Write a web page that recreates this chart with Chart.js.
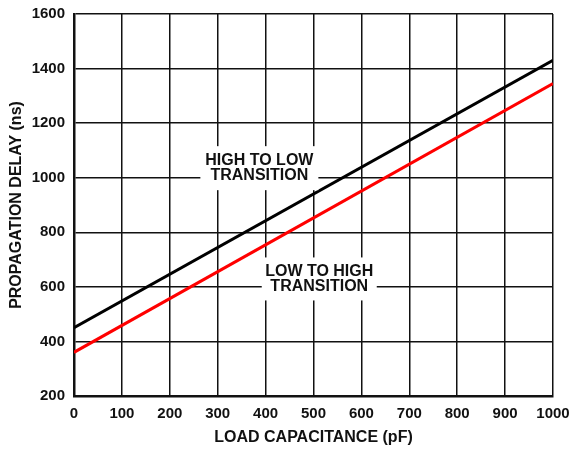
<!DOCTYPE html>
<html>
<head>
<meta charset="utf-8">
<script src="https://cdn.jsdelivr.net/npm/chart.js@4/dist/chart.umd.min.js"></script>
<style>
html, body { margin:0; padding:0; background:#fff; }
#wrap { width:571px; height:454px; }
</style>
</head>
<body>
<div id="wrap"><canvas id="delayChart" width="571" height="454"></canvas></div>
<script>

/* DATA */

const capacitance = [0, 1000];
const highToLow = [450, 1430];
const lowToHigh = [360, 1345];

const xTicks = [0, 100, 200, 300, 400, 500, 600, 700, 800, 900, 1000];
const yTicks = [200, 400, 600, 800, 1000, 1200, 1400, 1600];

/* boxed labels, in data units */
const curveLabels = [
{ lines:["HIGH TO LOW", "TRANSITION"], x:387, y:1035, w:118, h:44 },
{ lines:["LOW TO HIGH", "TRANSITION"], x:512, y:629, w:115, h:43 }
];

const FONT = "'Liberation Sans', Arial, sans-serif";


/* LABEL PLUGIN */

const labelPlugin = {
id:"curveLabels",
afterDatasetsDraw(chart){
const ctx = chart.ctx;
const xs = chart.scales.x, ys = chart.scales.y;
ctx.save();
curveLabels.forEach(l => {
const cx = xs.getPixelForValue(l.x);
const cy = ys.getPixelForValue(l.y);
ctx.fillStyle = "#fff";
ctx.fillRect(cx - l.w/2, cy - l.h/2, l.w, l.h);
ctx.fillStyle = "#111";
ctx.font = "bold 16px " + FONT;
ctx.textAlign = "center";
ctx.textBaseline = "middle";
ctx.fillText(l.lines[0], cx, cy - 7.5);
ctx.fillText(l.lines[1], cx, cy + 7.5);
});
ctx.restore();
}
};


/* CHART */

new Chart(document.getElementById("delayChart"), {

type:"line",

data:{
labels:capacitance,
datasets:[
{
label:"High to Low",
data:capacitance.map((c,i) => ({x:c, y:highToLow[i]})),
borderColor:"#000",
borderWidth:3,
pointRadius:0
},
{
label:"Low to High",
data:capacitance.map((c,i) => ({x:c, y:lowToHigh[i]})),
borderColor:"#ff0000",
borderWidth:3,
pointRadius:0
}
]
},

options:{
responsive:false,
animation:false,
layout:{ padding:{ left:0, top:14, right:18, bottom:0 } },
plugins:{ legend:{display:false}, tooltip:{enabled:false} },
scales:{
x:{
type:"linear",
min:0, max:1000,
afterBuildTicks: s => { s.ticks = xTicks.map(v => ({value:v})); },
afterFit: s => { s.height = 58; s.paddingLeft = 0; s.paddingRight = 0; },
ticks:{ color:"#111", padding:9, callback: v => String(v),
font:{family:FONT, size:15, weight:"bold"} },
grid:{ color:"#111", lineWidth:1.5, drawTicks:false },
border:{ color:"#111", width:2.5 },
title:{ display:true, text:"LOAD CAPACITANCE (pF)", color:"#111", padding:7,
font:{family:FONT, size:16, weight:"bold"} }
},
y:{
min:200, max:1600,
afterBuildTicks: s => { s.ticks = yTicks.map(v => ({value:v})); },
afterFit: s => { s.width = 74; s.paddingTop = 0; s.paddingBottom = 0; },
ticks:{ color:"#111", padding:9, callback: v => String(v),
font:{family:FONT, size:15, weight:"bold"} },
grid:{ color:"#111", lineWidth:1.5, drawTicks:false },
border:{ color:"#111", width:2.5 },
title:{ display:true, text:"PROPAGATION DELAY (ns)", color:"#111", padding:7,
font:{family:FONT, size:16, weight:"bold"} }
}
}
},

plugins:[labelPlugin]

});

</script>
</body>
</html>
